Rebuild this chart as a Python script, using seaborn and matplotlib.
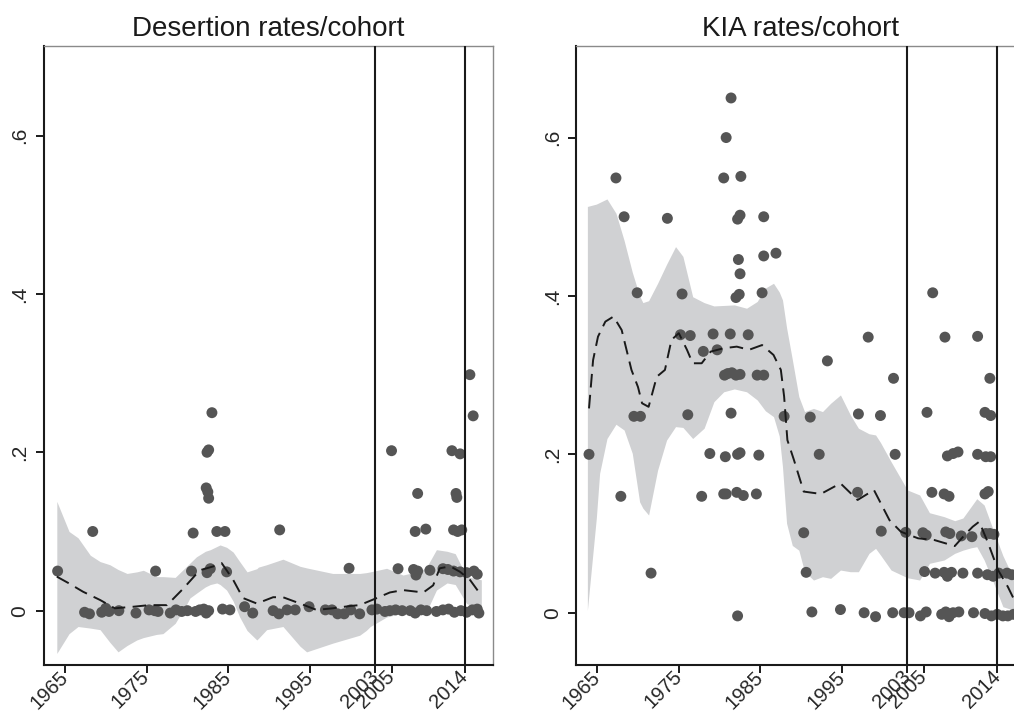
import numpy as np
import pandas as pd
import matplotlib
matplotlib.use("Agg")
import matplotlib.pyplot as plt
import matplotlib.transforms as mtrans
import seaborn as sns

# ---------------- data ----------------
des_x = [1964.1, 1967.4, 1968.0, 1968.4, 1969.5, 1970.0, 1970.4, 1971.6, 1973.7, 1975.3,
         1976.0, 1976.1, 1976.4, 1977.9, 1978.6, 1979.3, 1980.0, 1980.5, 1980.7, 1981.0,
         1981.5, 1982.0, 1982.3, 1982.6, 1982.4, 1982.6, 1982.3, 1982.5, 1982.6, 1983.0,
         1982.4, 1982.8, 1983.6, 1984.6, 1984.8, 1984.3, 1985.2, 1987.0, 1988.0, 1991.3,
         1990.5, 1991.2, 1992.2, 1993.2, 1994.9, 1996.9, 1997.7, 1998.4, 1999.2, 2000.0,
         1999.8, 2001.1, 2002.6, 2003.2, 2005.0, 2005.8, 2004.2, 2004.8, 2005.5, 2006.3,
         2007.7, 2008.0, 2008.2, 2008.2, 2007.9, 2009.2, 2009.7, 2007.3, 2007.9, 2008.6,
         2009.3, 2010.5, 2011.3, 2011.3, 2011.9, 2012.6, 2013.4, 2014.2, 2015.1, 2015.5,
         2012.4, 2013.4, 2012.9, 2013.0, 2012.6, 2013.1, 2013.6, 2014.6, 2015.0, 2012.0,
         2012.7, 2013.5, 2014.2, 2014.9, 2015.5, 2015.7]
des_y = [0.050, -0.002, -0.004, 0.100, -0.002, 0.003, -0.001, 0.000, -0.003, 0.001,
         0.000, 0.050, -0.001, -0.003, 0.001, -0.001, 0.000, 0.050, 0.098, -0.001,
         0.001, 0.002, -0.003, 0.000, 0.200, 0.203, 0.155, 0.150, 0.142, 0.250,
         0.048, 0.053, 0.100, 0.100, 0.049, 0.002, 0.001, 0.005, -0.003, 0.102,
         0.000, -0.004, 0.001, 0.001, 0.005, 0.001, 0.001, -0.004, -0.004, 0.001,
         0.0535, -0.004, 0.001, 0.002, 0.202, 0.053, -0.001, 0.000, 0.001, 0.000,
         0.052, 0.045, 0.050, 0.148, 0.100, 0.103, 0.051, 0.000, -0.003, 0.001,
         0.000, -0.001, 0.001, 0.053, 0.052, 0.050, 0.049, 0.048, 0.050, 0.046,
         0.202, 0.198, 0.148, 0.143, 0.102, 0.100, 0.102, 0.298, 0.246, 0.002,
         -0.002, 0.000, -0.002, 0.001, 0.002, -0.003]

des_fit_x = [1964.0, 1965.4, 1967.2, 1969.3, 1971.1, 1973.4, 1975.3, 1977.5, 1979.5, 1981.5,
             1983.2, 1984.2, 1985.6, 1986.8, 1988.5, 1990.5, 1991.7, 1993.8, 1995.8, 1997.8,
             2000.0, 2001.1, 2003.2, 2004.8, 2006.4, 2008.9, 2010.1, 2010.9, 2012.2, 2013.4,
             2014.6, 2015.8]
des_fit = [0.043, 0.035, 0.024, 0.0135, 0.003, 0.005, 0.007, 0.007, 0.028, 0.051,
           0.056, 0.060, 0.039, 0.016, 0.009, 0.017, 0.017, 0.009, 0.001, 0.003,
           0.006, 0.007, 0.016, 0.023, 0.026, 0.023, 0.032, 0.0535, 0.056, 0.049,
           0.039, 0.022]
des_band_x = [1964.0, 1965.5, 1966.6, 1968.1, 1969.3, 1970.5, 1971.5, 1972.6, 1973.8, 1974.6,
              1976.2, 1977.0, 1978.5, 1979.9, 1980.3, 1981.1, 1982.2, 1982.8, 1983.6, 1984.0,
              1984.8, 1985.6, 1986.4, 1987.3, 1988.5, 1988.7, 1989.7, 1991.7, 1993.8, 1994.6,
              1997.8, 2001.1, 2001.9, 2002.4, 2004.4, 2006.4, 2008.5, 2009.3, 2010.5, 2011.8,
              2012.8, 2014.2, 2016.0]
des_hi = [0.138, 0.100, 0.092, 0.070, 0.062, 0.058, 0.052, 0.047, 0.049, 0.051,
          0.043, 0.043, 0.042, 0.056, 0.060, 0.068, 0.075, 0.077, 0.081, 0.083,
          0.080, 0.074, 0.062, 0.049, 0.053, 0.055, 0.058, 0.065, 0.056, 0.054,
          0.047, 0.047, 0.048, 0.049, 0.0535, 0.045, 0.050, 0.055, 0.077, 0.075,
          0.072, 0.043, 0.039]
des_lo = [-0.054, -0.029, -0.020, -0.022, -0.024, -0.040, -0.052, -0.044, -0.037, -0.034,
          -0.030, -0.029, -0.016, 0.008, 0.016, 0.022, 0.030, 0.033, 0.035, 0.033,
          0.026, 0.012, -0.008, -0.025, -0.037, -0.035, -0.024, -0.020, -0.045, -0.052,
          -0.041, -0.031, -0.025, -0.020, -0.008, -0.003, -0.002, -0.001, 0.026, 0.035,
          0.033, 0.009, 0.001]

kia_x = [1964.0, 1967.3, 1967.9, 1968.3, 1969.5, 1969.9, 1970.3, 1971.6, 1973.6, 1975.2,
         1975.4, 1976.1, 1976.4, 1977.8, 1978.0, 1978.8, 1979.2, 1979.7, 1980.5, 1980.8,
         1981.4, 1981.3, 1980.5, 1980.8, 1980.7, 1981.4, 1980.6, 1981.0, 1981.5, 1982.0,
         1982.5, 1982.6, 1982.2, 1982.5, 1982.3, 1982.5, 1982.0, 1982.4, 1982.2, 1982.5,
         1982.1, 1982.9, 1982.2, 1983.5, 1984.5, 1984.6, 1984.8, 1985.4, 1985.4, 1985.4,
         1985.2, 1986.9, 1987.9, 1990.3, 1990.6, 1991.1, 1991.3, 1992.2, 1993.2, 1994.8,
         1996.9, 1997.0, 1997.7, 1998.2, 1999.1, 1999.7, 1999.8, 2001.3, 2001.5, 2001.2,
         2002.8, 2002.6, 2003.2, 2004.6, 2004.9, 2005.3, 2005.1, 2005.4, 2005.3, 2006.0,
         2006.1, 2006.4, 2007.5, 2007.6, 2008.1, 2007.9, 2009.2, 2008.6, 2007.7, 2008.2,
         2007.5, 2007.9, 2008.4, 2007.2, 2007.7, 2008.1, 2008.6, 2009.3, 2009.8, 2009.6,
         2010.9, 2011.1, 2011.6, 2011.6, 2011.6, 2012.6, 2013.2, 2012.5, 2012.9, 2012.5,
         2013.2, 2013.1, 2012.6, 2013.1, 2013.6, 2012.8, 2013.5, 2014.2, 2015.2, 2015.8,
         2012.5, 2013.3, 2014.0, 2014.7, 2015.3, 2016.0]
kia_y = [0.200, 0.549, 0.147, 0.500, 0.248, 0.404, 0.248, 0.050, 0.498, 0.351,
         0.4025, 0.250, 0.350, 0.147, 0.330, 0.201, 0.352, 0.332, 0.549, 0.600,
         0.650, 0.352, 0.150, 0.150, 0.197, 0.252, 0.300, 0.302, 0.303, 0.300,
         0.301, 0.551, 0.497, 0.502, 0.446, 0.428, 0.398, 0.402, 0.200, 0.202,
         0.152, 0.148, -0.004, 0.351, 0.150, 0.300, 0.199, 0.300, 0.500, 0.4505,
         0.404, 0.454, 0.248, 0.101, 0.051, 0.247, 0.001, 0.200, 0.318, 0.004,
         0.152, 0.251, 0.000, 0.348, -0.005, 0.249, 0.103, 0.296, 0.200, 0.000,
         0.1015, 0.000, 0.000, -0.004, 0.101, 0.098, 0.052, 0.253, 0.001, 0.152,
         0.404, 0.050, 0.150, 0.348, 0.147, 0.198, 0.203, 0.201, 0.102, 0.100,
         0.051, 0.046, 0.051, -0.002, 0.001, -0.005, 0.000, 0.001, 0.050, 0.097,
         0.096, 0.000, 0.349, 0.200, 0.050, 0.197, 0.197, 0.150, 0.153, 0.253,
         0.249, 0.296, 0.100, 0.100, 0.099, 0.048, 0.046, 0.050, 0.050, 0.048,
         -0.001, -0.004, -0.002, -0.004, -0.004, -0.002]

kia_fit_x = [1964.0, 1964.5, 1965.1, 1966.0, 1967.0, 1968.0, 1969.2, 1970.0, 1970.5, 1971.3,
             1972.3, 1973.3, 1974.1, 1975.0, 1976.0, 1976.7, 1977.8, 1978.9, 1980.5, 1982.1,
             1983.6, 1985.2, 1986.6, 1987.5, 1987.9, 1988.3, 1989.1, 1990.3, 1992.4, 1994.8,
             1996.9, 1998.9, 2000.8, 2002.2, 2004.3, 2006.3, 2008.8, 2010.0, 2011.0, 2011.8,
             2012.9, 2014.1, 2015.3, 2016.1]
kia_fit = [0.258, 0.319, 0.3486, 0.3676, 0.374, 0.357, 0.3066, 0.285, 0.2645, 0.260,
           0.298, 0.3066, 0.3445, 0.353, 0.332, 0.315, 0.315, 0.3297, 0.334, 0.336,
           0.332, 0.338, 0.3255, 0.3066, 0.273, 0.218, 0.193, 0.153, 0.150, 0.1634,
           0.1424, 0.155, 0.117, 0.1023, 0.094, 0.0918, 0.0842, 0.098, 0.1086, 0.115,
           0.0876, 0.054, 0.0328, 0.016]
kia_band_x = [1963.8, 1964.9, 1965.3, 1966.2, 1967.3, 1968.3, 1969.3, 1970.2, 1970.6, 1971.3,
              1972.4, 1973.5, 1974.6, 1975.5, 1976.7, 1978.1, 1979.3, 1980.5, 1981.8, 1983.3,
              1984.6, 1985.6, 1986.6, 1987.3, 1987.7, 1988.2, 1988.9, 1989.7, 1990.4, 1991.5,
              1992.6, 1993.6, 1994.8, 1996.0, 1997.0, 1998.3, 1999.1, 1999.7, 2001.0, 2003.0,
              2004.5, 2005.7, 2007.5, 2008.8, 2009.8, 2010.8, 2011.5, 2012.4, 2013.5, 2014.7,
              2016.1]
kia_hi = [0.513, 0.516, 0.518, 0.5225, 0.5045, 0.470, 0.430, 0.400, 0.3916, 0.394,
          0.416, 0.440, 0.4623, 0.450, 0.399, 0.3916, 0.3874, 0.388, 0.3887, 0.3845,
          0.393, 0.410, 0.416, 0.405, 0.395, 0.360, 0.320, 0.273, 0.254, 0.258,
          0.254, 0.2645, 0.275, 0.250, 0.233, 0.226, 0.2245, 0.215, 0.1907, 0.155,
          0.1487, 0.1263, 0.1213, 0.1162, 0.1196, 0.1339, 0.144, 0.136, 0.105, 0.072,
          0.0413]
kia_lo = [0.003, 0.120, 0.176, 0.220, 0.238, 0.2307, 0.2013, 0.140, 0.132, 0.1234,
          0.180, 0.218, 0.235, 0.234, 0.220, 0.233, 0.2665, 0.279, 0.2826, 0.279,
          0.2687, 0.255, 0.2476, 0.2232, 0.1844, 0.113, 0.085, 0.079, 0.0518, 0.0413,
          0.0455, 0.0434, 0.0539, 0.0518, 0.0518, 0.075, 0.0813, 0.0729, 0.0539, 0.0442,
          0.0413, 0.0624, 0.0666, 0.075, 0.0790, 0.0820, 0.0834, 0.0666, 0.039, 0.0076,
          0.003]

xticks = [1965, 1975, 1985, 1995, 2003, 2005, 2014]
yticks = [0, 0.2, 0.4, 0.6]
ytick_labels = ["0", ".2", ".4", ".6"]
vlines = [2003, 2014]
titles = ["Desertion rates/cohort", "KIA rates/cohort"]

# ---------------- style ----------------
sns.set_style("ticks")
plt.rcParams["font.family"] = ["Liberation Sans", "DejaVu Sans"]
plt.rcParams["text.color"] = "#1a1a1a"

W, H = 1014, 715
fig = plt.figure(figsize=(W / 100, H / 100), dpi=100)

panels = [
    dict(left=43.5, ylim=(-0.0686, 0.7134), px=des_x, py=des_y, fx=des_fit_x, fy=des_fit,
         bx=des_band_x, lo=des_lo, hi=des_hi, title=titles[0]),
    dict(left=575.7, ylim=(-0.066, 0.716), px=kia_x, py=kia_y, fx=kia_fit_x, fy=kia_fit,
         bx=kia_band_x, lo=kia_lo, hi=kia_hi, title=titles[1]),
]

ax_w = 449.5
ax_top, ax_bot = 45.7, 665.0
shift = mtrans.ScaledTranslation(4 / 100, -3 / 100, fig.dpi_scale_trans)
for p in panels:
    ax = fig.add_axes([p["left"] / W, 1 - ax_bot / H, ax_w / W, (ax_bot - ax_top) / H])
    ax.fill_between(p["bx"], p["lo"], p["hi"], color="#d0d1d3", lw=0, zorder=1)
    pts = pd.DataFrame({"x": p["px"], "y": p["py"]})
    sns.scatterplot(data=pts, x="x", y="y", ax=ax, s=62, color="#555555",
                    edgecolor="none", linewidth=0, zorder=3)
    fit = pd.DataFrame({"x": p["fx"], "y": p["fy"]})
    sns.lineplot(data=fit, x="x", y="y", ax=ax, color="#1a1a1a", lw=1.4,
                 dashes=False, zorder=4, estimator=None, sort=False)
    ax.lines[-1].set_linestyle((0, (7.0, 3.8)))
    for v in vlines:
        ax.axvline(v, color="#1a1a1a", lw=1.5, zorder=5)
    ax.set_xlim(1962.37, 2017.43)
    ax.set_ylim(*p["ylim"])
    ax.set_xticks(xticks)
    ax.set_xticklabels([str(t) for t in xticks], rotation=45, ha="right",
                       va="center", rotation_mode="anchor", fontsize=14.5)
    for lab in ax.get_xticklabels():
        lab.set_transform(lab.get_transform() + shift)
    ax.set_yticks(yticks)
    ax.set_yticklabels(ytick_labels, rotation=90, va="center", fontsize=15)
    ax.tick_params(axis="both", length=6, width=1.4, color="#1a1a1a", pad=4)
    ax.tick_params(axis="x", pad=0.5)
    ax.set_xlabel("")
    ax.set_ylabel("")
    for s in ["left", "bottom"]:
        ax.spines[s].set_color("#1a1a1a")
        ax.spines[s].set_linewidth(1.5)
    for s in ["top", "right"]:
        ax.spines[s].set_visible(True)
        ax.spines[s].set_color("#8a8a8a")
        ax.spines[s].set_linewidth(1.0)
    ax.set_title(p["title"], fontsize=20, pad=7, color="#1a1a1a")

fig.savefig("out.png", dpi=100)
